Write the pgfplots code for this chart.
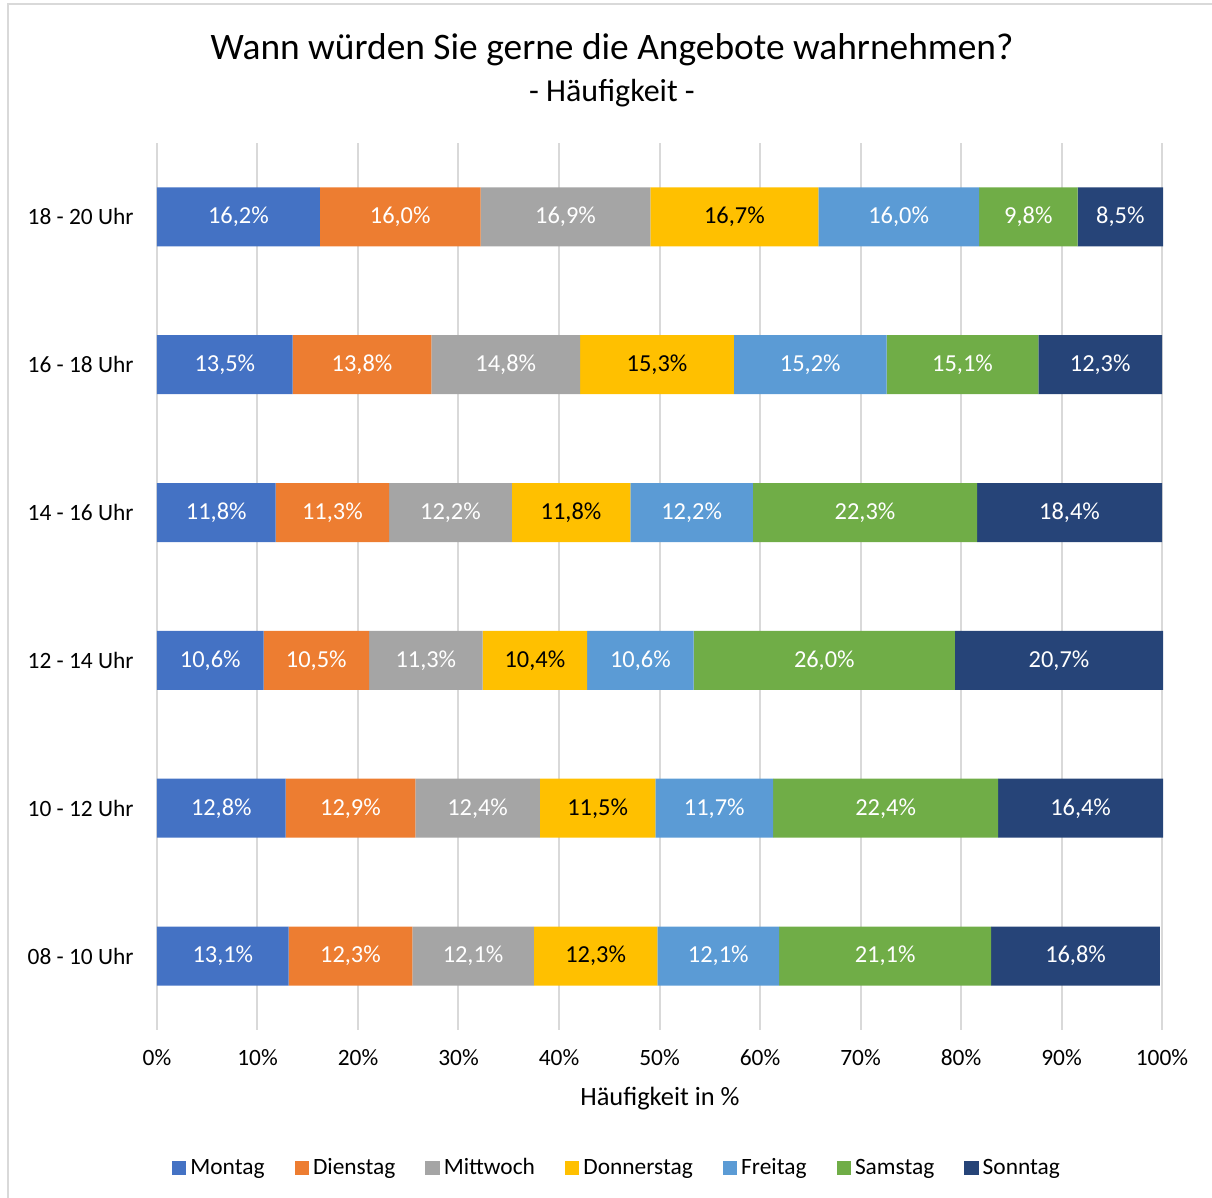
\documentclass[border=0pt]{standalone}
\usepackage{pgfplots}
\pgfplotsset{compat=1.18}
\usepackage{pgfplotstable}
\usepackage{fontspec}
\setmainfont{Carlito}
\definecolor{cMo}{HTML}{4472C4}
\definecolor{cDi}{HTML}{ED7D31}
\definecolor{cMi}{HTML}{A5A5A5}
\definecolor{cDo}{HTML}{FFC000}
\definecolor{cFr}{HTML}{5B9BD5}
\definecolor{cSa}{HTML}{70AD47}
\definecolor{cSo}{HTML}{264478}
\definecolor{gridc}{HTML}{D9D9D9}
\pgfplotstableread{
idx Mo Di Mi Do Fr Sa So
0 13.1 12.3 12.1 12.3 12.1 21.1 16.8
1 12.8 12.9 12.4 11.5 11.7 22.4 16.4
2 10.6 10.5 11.3 10.4 10.6 26.0 20.7
3 11.8 11.3 12.2 11.8 12.2 22.3 18.4
4 13.5 13.8 14.8 15.3 15.2 15.1 12.3
5 16.2 16.0 16.9 16.7 16.0 9.8 8.5
}\datatable
\pgfplotsset{
  lab/.style n args={2}{
    fill=#2, draw=none,
    visualization depends on={\thisrow{#1} \as \val},
    nodes near coords={\pgfmathprintnumber[fixed,fixed zerofill,precision=1,use comma]{\val}\%},
    every node near coord/.append style={anchor=center, inner sep=0pt, font=\fontsize{12.2}{14}\selectfont},
  },
}
\begin{document}
\begin{tikzpicture}
\begin{axis}[
  at={(0,0)}, anchor=south west,
  scale only axis, width=502.5pt, height=443.5pt,
  xbar stacked, bar width=29.5pt,
  xmin=0, xmax=100, ymin=-0.5, ymax=5.5,
  xtick={0,10,...,100},
  xticklabel={\pgfmathprintnumber{\tick}\%},
  ytick={0,...,5},
  yticklabels={08 - 10 Uhr,10 - 12 Uhr,12 - 14 Uhr,14 - 16 Uhr,16 - 18 Uhr,18 - 20 Uhr},
  /pgf/number format/assume math mode=true,
  tick label style={font=\fontsize{11.7}{14}\selectfont},
  major tick length=0pt,
  xticklabel style={inner sep=0pt, anchor=north, yshift=-9.5pt},
  yticklabel style={inner sep=0pt, anchor=east, xshift=-11.5pt},
  axis line style={draw=none},
  xmajorgrids, grid style={gridc, line width=1pt},
  clip=false,
  legend columns=7,
  legend style={at={(axis description cs:0.4587,-0.1556)}, anchor=center, draw=none, font=\fontsize{11.7}{14}\selectfont, /tikz/every even column/.append style={column sep=13pt}, inner sep=0pt},
  legend image code/.code={\fill[#1] (0pt,-3.6pt) rectangle (7.2pt,3.6pt);},
  every axis plot/.append style={draw=none},
]
\addplot[lab={Mo}{cMo}, every node near coord/.append style={text=white}] table[x=Mo,y=idx]{\datatable};
\addplot[lab={Di}{cDi}, every node near coord/.append style={text=white}] table[x=Di,y=idx]{\datatable};
\addplot[lab={Mi}{cMi}, every node near coord/.append style={text=white}] table[x=Mi,y=idx]{\datatable};
\addplot[lab={Do}{cDo}, every node near coord/.append style={text=black}] table[x=Do,y=idx]{\datatable};
\addplot[lab={Fr}{cFr}, every node near coord/.append style={text=white}] table[x=Fr,y=idx]{\datatable};
\addplot[lab={Sa}{cSa}, every node near coord/.append style={text=white}] table[x=Sa,y=idx]{\datatable};
\addplot[lab={So}{cSo}, every node near coord/.append style={text=white}] table[x=So,y=idx]{\datatable};
\legend{Montag,Dienstag,Mittwoch,Donnerstag,Freitag,Samstag,Sonntag}
\end{axis}
\node[font=\fontsize{18.7}{22}\selectfont] at (227.5pt,490pt) {Wann würden Sie gerne die Angebote wahrnehmen?};
\node[font=\fontsize{16}{19}\selectfont] at (227.5pt,468.5pt) {- Häufigkeit -};
\node[font=\fontsize{13.2}{16}\selectfont] at (251.5pt,-34.5pt) {Häufigkeit in \%};
\draw[gridc, line width=0.8pt] (-74.5pt,-120pt) rectangle (560pt,513pt);
\pgfresetboundingbox
\useasboundingbox (-78.5pt,-84pt) rectangle (527.5pt,515pt);
\end{tikzpicture}
\end{document}
